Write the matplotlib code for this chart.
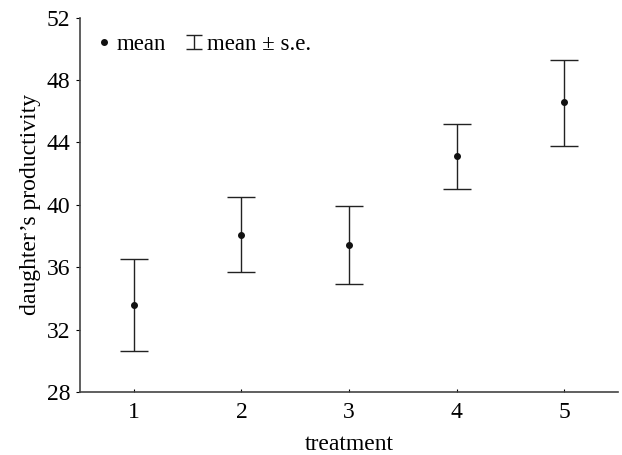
import matplotlib.pyplot as plt
from matplotlib.container import ErrorbarContainer
from matplotlib.lines import Line2D
from matplotlib.collections import LineCollection
from matplotlib.legend_handler import HandlerErrorbar

plt.rcParams['font.family'] = ['Liberation Serif', 'DejaVu Serif']

treatment = [1, 2, 3, 4, 5]
mean = [33.6, 38.05, 37.4, 43.1, 46.6]
se_low = [30.6, 35.7, 34.9, 41.0, 43.8]
se_high = [36.55, 40.5, 39.9, 45.2, 49.3]

yerr = [[m - lo for m, lo in zip(mean, se_low)],
        [hi - m for m, hi in zip(mean, se_high)]]

fig = plt.figure(figsize=(6.22, 4.55), dpi=100)
ax = fig.add_axes([0.1286, 0.1385, 0.865, 0.8228])

ax.errorbar(treatment, mean, yerr=yerr, fmt='none', ecolor='#222222',
            elinewidth=1.0, capsize=10, capthick=1.0)
dots, = ax.plot(treatment, mean, 'o', color='#111111', markersize=4, linestyle='none',
                label='mean')

ax.set_xlim(0.5, 5.5)
ax.set_ylim(28, 52)
ax.set_xticks(treatment)
ax.set_yticks([28, 32, 36, 40, 44, 48, 52])
ax.spines['top'].set_visible(False)
ax.spines['right'].set_visible(False)
for s in ('left', 'bottom'):
    ax.spines[s].set_color('#444444')
    ax.spines[s].set_linewidth(1.2)
ax.tick_params(axis='y', direction='out', length=3, width=0.8, labelsize=17, pad=4)
ax.tick_params(axis='x', direction='in', length=2, width=0.8, labelsize=17, pad=7)
ax.set_xlabel('treatment', fontsize=17, labelpad=8)
ax.set_ylabel("daughter’s productivity", fontsize=17, labelpad=4)

# small I-beam handle for the legend
cap = Line2D([], [], marker='_', markersize=12, markeredgewidth=1.0,
             color='#222222', linestyle='none')
bar = LineCollection([], colors='#222222', linewidths=1.0)
se_handle = ErrorbarContainer((None, (cap, cap), (bar,)), has_xerr=False,
                              has_yerr=True, label='mean ± s.e.')

ax.legend(handles=[dots, se_handle], loc='upper left', bbox_to_anchor=(-0.003, 1.0),
          ncol=2, frameon=False, fontsize=16.5, handlelength=0.8, handletextpad=0.18,
          columnspacing=0.8, borderaxespad=0.3,
          handler_map={ErrorbarContainer: HandlerErrorbar(yerr_size=0.3)})

fig.savefig('out.png', dpi=100)
